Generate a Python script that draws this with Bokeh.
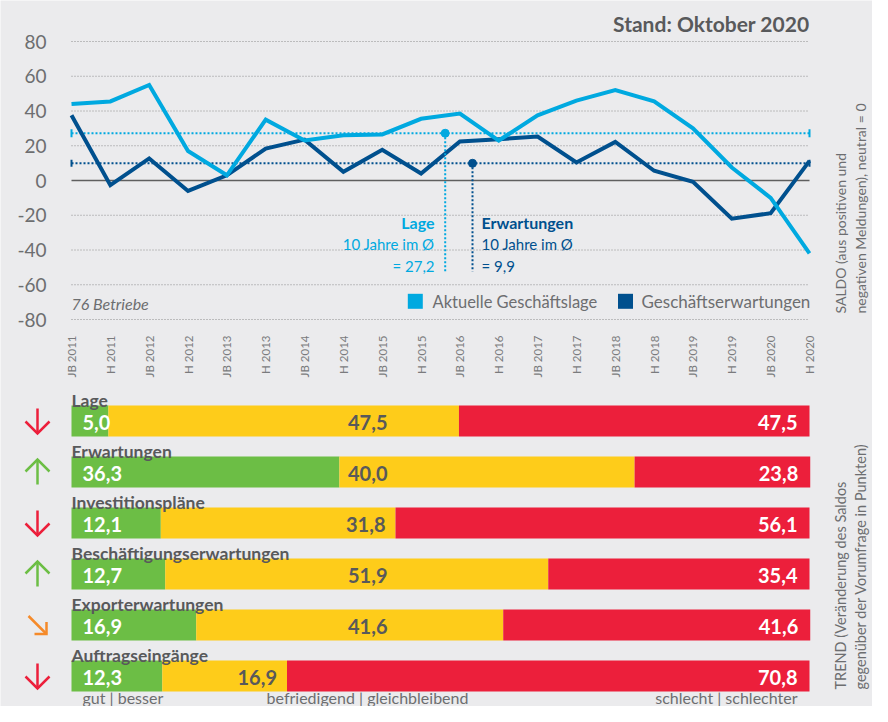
import math
from bokeh.plotting import figure
from bokeh.models import Range1d, ColumnDataSource
from bokeh.embed import file_html
from bokeh.resources import INLINE
from bokeh.core.properties import value

# ---------------- data ----------------
periods = ["JB 2011", "H 2011", "JB 2012", "H 2012", "JB 2013", "H 2013", "JB 2014", "H 2014",
           "JB 2015", "H 2015", "JB 2016", "H 2016", "JB 2017", "H 2017", "JB 2018", "H 2018",
           "JB 2019", "H 2019", "JB 2020", "H 2020"]
lage = [44, 45.5, 55, 17, 3, 35, 23, 26, 26.5, 35.5, 38.5, 23, 37.5, 46, 52, 45.5, 30, 7.5, -10, -42]
erwartungen = [37.5, -2.7, 12.7, -6, 3, 18.4, 23.5, 5, 17.7, 4, 22.4, 23.8, 25.3, 10.4, 22.2,
               5.6, -0.7, -22, -18.8, 11.3]
avg_lage = 27.2
avg_erw = 9.9
y_ticks = [80, 60, 40, 20, 0, -20, -40, -60, -80]

categories = ["Lage", "Erwartungen", "Investitionspläne", "Beschäftigungserwartungen",
              "Exporterwartungen", "Auftragseingänge"]
gut = [5.0, 36.3, 12.1, 12.7, 16.9, 12.3]
befr = [47.5, 40.0, 31.8, 51.9, 41.6, 16.9]
schlecht = [47.5, 23.8, 56.1, 35.4, 41.6, 70.8]
trend = ["down", "up", "down", "up", "downright", "down"]

# ---------------- style ----------------
FONT = value("Lato")
BG = "#EBEBED"
LIGHT = "#00A9E0"
DARK = "#00508E"
GREY_T = "#6D6E70"
GREY_B = "#58595B"
GREEN = "#6CBE45"
YELLOW = "#FECC1A"
RED = "#EC1F3B"
ORANGE = "#F58A2A"

W = 872
H = 706
PAGE_L, PAGE_T = 8, 8
PAGE_R, PAGE_B = PAGE_L + W, PAGE_T + H


def fmt(v):
    return f"{v:.1f}".replace(".", ",")


# ---------------- scales (top line chart) ----------------
X0P, X1P = 79, 817
Y0P = 188
SY = 1.7375
n = len(periods)
SX = (X1P - X0P) / (n - 1)


def tx(px):
    return (px - X0P) / SX


def ty(py):
    return (Y0P - py) / SY


# ---------------- scales (bottom bar chart) ----------------
BX0 = 79
BSX = 7.38
ROW0 = 428.5
ROWH = 51


def bx(px):
    return (px - BX0) / BSX


def by(py):
    return (ROW0 - py) / ROWH


p = figure(width=W, height=H,
           x_range=Range1d(tx(PAGE_L), tx(PAGE_R)), y_range=Range1d(ty(PAGE_B), ty(PAGE_T)),
           output_backend="svg", toolbar_location=None,
           x_axis_location=None, y_axis_location=None, min_border=0,
           background_fill_color=BG, border_fill_color=BG, outline_line_color=None, title=None)
p.extra_x_ranges = {"bx": Range1d(bx(PAGE_L), bx(PAGE_R))}
p.extra_y_ranges = {"by": Range1d(by(PAGE_B), by(PAGE_T))}
p.grid.visible = False

# ---------------- top chart ----------------
xs = list(range(n))
grid_src = ColumnDataSource(dict(y=[t for t in y_ticks if t != 0]))
p.segment(x0=0, x1=n - 1, y0="y", y1="y", source=grid_src, line_color="#8C8C8C",
          line_width=1, line_dash="1 2")
p.segment(x0=[0], x1=[n - 1], y0=[0], y1=[0], line_color="#5F5F5F", line_width=1.5)

p.text(x=tx(54), y=y_ticks, text=[str(t) for t in y_ticks], text_align="right",
       text_baseline="middle", text_font=FONT, text_font_size="19px", text_color=GREY_T)

for avg, col, th in [(avg_lage, LIGHT, 8), (avg_erw, DARK, 7)]:
    p.segment(x0=[0], x1=[n - 1], y0=[avg], y1=[avg], line_color=col, line_width=2,
              line_dash="2 2")
    p.segment(x0=[0, n - 1], x1=[0, n - 1], y0=avg - th / 2 / SY, y1=avg + th / 2 / SY,
              line_color=col, line_width=2)

p.line(x=xs, y=erwartungen, line_color=DARK, line_width=4, line_join="miter")
p.line(x=xs, y=lage, line_color=LIGHT, line_width=4, line_join="miter")

for xp, avg, col in [(452.7, avg_lage, LIGHT), (480, avg_erw, DARK)]:
    p.segment(x0=[tx(xp)], x1=[tx(xp)], y0=[avg], y1=[ty(279)], line_color=col,
              line_width=2, line_dash="2 2")
    p.scatter(x=[tx(xp)], y=[avg], size=8, color=col)

p.text(x=[tx(442)], y=[ty(230)], text=["Lage"], text_align="right", text_baseline="middle",
       text_font=FONT, text_font_style="bold", text_font_size="16px", text_color=LIGHT)
p.text(x=tx(442), y=[ty(251.5), ty(273)], text=["10 Jahre im Ø", "= " + fmt(avg_lage)],
       text_align="right", text_baseline="middle", text_font=FONT, text_font_size="15px",
       text_color=LIGHT)
p.text(x=[tx(489)], y=[ty(230)], text=["Erwartungen"], text_align="left",
       text_baseline="middle", text_font=FONT, text_font_style="bold",
       text_font_size="16px", text_color=DARK)
p.text(x=tx(489), y=[ty(251.5), ty(273)], text=["10 Jahre im Ø", "= " + fmt(avg_erw)],
       text_align="left", text_baseline="middle", text_font=FONT, text_font_size="15px",
       text_color=DARK)

# legend
p.scatter(x=[tx(422.8), tx(633)], y=ty(308.8), marker="square", size=15,
          color=[LIGHT, DARK], line_color=None)
p.text(x=[tx(440)], y=[ty(309)], text=["Aktuelle Geschäftslage"], text_align="left",
       text_baseline="middle", text_font=FONT, text_font_size="16.5px", text_color=GREY_T)
p.text(x=[tx(649)], y=[ty(309)], text=["Geschäftserwartungen"], text_align="left",
       text_baseline="middle", text_font=FONT, text_font_size="17px", text_color=GREY_T)

p.text(x=[tx(79)], y=[ty(311)], text=["76 Betriebe"], text_align="left",
       text_baseline="middle", text_font=FONT, text_font_style="italic",
       text_font_size="16px", text_color=GREY_T)

p.text(x=[tx(817)], y=[ty(31)], text=["Stand: Oktober 2020"], text_align="right",
       text_baseline="middle", text_font=FONT, text_font_style="bold",
       text_font_size="21px", text_color=GREY_B)

p.text(x=[tx(847.5), tx(867.5)], y=ty(321),
       text=["SALDO (aus positiven und", "negativen Meldungen), neutral = 0"],
       angle=math.pi / 2, text_align="left", text_baseline="middle", text_font=FONT,
       text_font_size="14px", text_color=GREY_T)

p.text(x=xs, y=ty(343), text=periods, angle=math.pi / 2, text_align="right",
       text_baseline="middle", text_font=FONT, text_font_size="11.5px", text_color="#7A7B7D")

# ---------------- bottom bar chart ----------------
R = dict(x_range_name="bx", y_range_name="by")
m = len(categories)
ys = [-i for i in range(m)]
c1 = gut
c2 = [g + b for g, b in zip(gut, befr)]
c3 = [g + b + s for g, b, s in zip(gut, befr, schlecht)]
BAR_H = 31 / ROWH
src = ColumnDataSource(dict(
    y=ys, c1=c1, c2=c2, c3=c3,
    lab_y=[y + BAR_H / 2 + 5 / ROWH for y in ys],
    g_txt=[fmt(v) for v in gut], b_txt=[fmt(v) for v in befr], s_txt=[fmt(v) for v in schlecht],
    b_x=[min(bx(395) + 10 / BSX, v) for v in c2],
    cat=categories,
))
p.hbar(y="y", left=0, right="c1", height=BAR_H, fill_color=GREEN, line_color=None,
       source=src, **R)
p.hbar(y="y", left="c1", right="c2", height=BAR_H, fill_color=YELLOW, line_color=None,
       source=src, **R)
p.hbar(y="y", left="c2", right="c3", height=BAR_H, fill_color=RED, line_color=None,
       source=src, **R)

p.text(x=0, y="lab_y", text="cat", source=src, text_align="left", text_baseline="alphabetic",
       text_font=FONT, text_font_style="bold", text_font_size="17.5px", text_color=GREY_B, **R)
p.text(x=bx(90), y="y", text="g_txt", source=src, text_align="left", text_baseline="middle",
       y_offset=1, text_font=FONT, text_font_style="bold", text_font_size="20px",
       text_color="white", **R)
p.text(x="b_x", y="y", text="b_txt", source=src, text_align="right", text_baseline="middle",
       x_offset=-10, y_offset=1, text_font=FONT, text_font_style="bold",
       text_font_size="20px", text_color=GREY_B, **R)
p.text(x="c3", y="y", text="s_txt", source=src, text_align="right", text_baseline="middle",
       x_offset=-12, y_offset=1, text_font=FONT, text_font_style="bold",
       text_font_size="20px", text_color="white", **R)

# trend arrows
AX = bx(45)
arrow_xs, arrow_ys, arrow_cols = [], [], []
for y, t in zip(ys, trend):
    if t in ("down", "up"):
        s = 1 if t == "down" else -1
        top = y + s * 12.5 / ROWH
        tip = y - s * 12.5 / ROWH
        arrow_xs.append([AX, AX])
        arrow_ys.append([top, tip])
        arrow_xs.append([AX - 12 / BSX, AX, AX + 12 / BSX])
        arrow_ys.append([tip + s * 12 / ROWH, tip, tip + s * 12 / ROWH])
        col = RED if t == "down" else GREEN
        arrow_cols += [col, col]
    else:
        sx0, sy0 = AX - 9 / BSX, y + 9 / ROWH
        tx0, ty0 = AX + 9 / BSX, y - 9 / ROWH
        arrow_xs.append([sx0, tx0])
        arrow_ys.append([sy0, ty0])
        arrow_xs.append([tx0 - 12 / BSX, tx0, tx0])
        arrow_ys.append([ty0, ty0, ty0 + 12 / ROWH])
        arrow_cols += [ORANGE, ORANGE]
p.multi_line(xs=arrow_xs, ys=arrow_ys, line_color=arrow_cols, line_width=2.5,
             line_join="miter", **R)

for txt, xp, al in [("gut | besser", 90, "left"),
                    ("befriedigend | gleichbleibend", 375, "center"),
                    ("schlecht | schlechter", 805, "right")]:
    p.text(x=[bx(xp)], y=[by(PAGE_B)], text=[txt], text_align=al, text_baseline="bottom",
           text_font=FONT, text_font_size="16px", text_color=GREY_T, **R)

p.text(x=[bx(847.5), bx(867.5)], y=by(697),
       text=["TREND (Veränderung des Saldos", "gegenüber der Vorumfrage in Punkten)"],
       angle=math.pi / 2, text_align="left", text_baseline="middle", text_font=FONT,
       text_font_size="14.5px", text_color=GREY_T, **R)

with open("out.html", "w") as f:
    f.write(file_html(p, INLINE))
